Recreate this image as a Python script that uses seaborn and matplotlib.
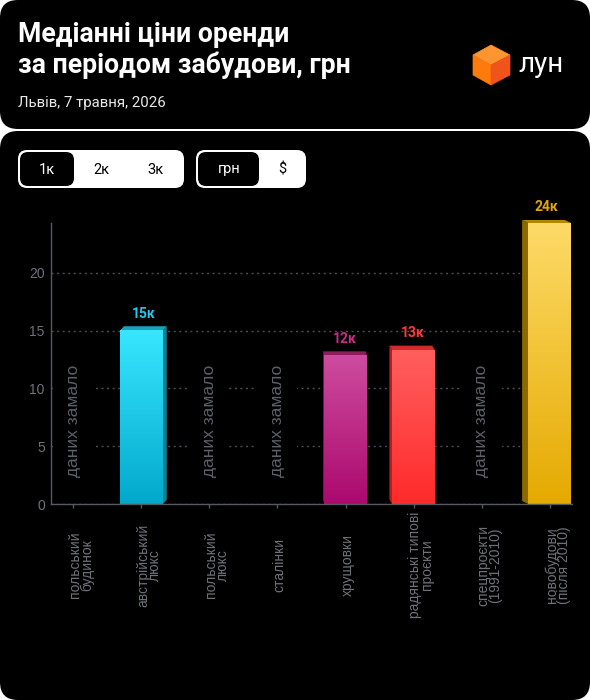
import numpy as np
import pandas as pd
import seaborn as sns
import matplotlib.pyplot as plt
from matplotlib.patches import FancyBboxPatch, Polygon
from matplotlib.colors import LinearSegmentedColormap

# data: median rent, thousand UAH (NaN = not enough data)
categories = ["польський\nбудинок", "австрійський\nлюкс", "польський\nлюкс", "сталінки",
              "хрущовки", "радянські типові\nпроєкти", "спецпроєкти\n(1991-2010)",
              "новобудови\n(після 2010)"]
prices = [np.nan, 15.0, np.nan, np.nan, 12.8, 13.3, np.nan, 24.3]
price_labels = ["", "15к", "", "", "12к", "13к", "", "24к"]
yticks = [0, 5, 10, 15, 20]
no_data_text = "даних замало"

# colours per category: gradient top, gradient bottom, top face, side face, label
bar_top = ["#888", "#38e6ff", "#888", "#888", "#cd4c9f", "#ff5e5e", "#888", "#fdda68"]
bar_bottom = ["#888", "#02a8cb", "#888", "#888", "#ab096d", "#ff2a2a", "#888", "#e5aa00"]
face_top = ["#888", "#1aa2bb", "#888", "#888", "#8e1d5d", "#cf2b2b", "#888", "#b38700"]
face_side = ["#888", "#147f92", "#888", "#888", "#7a1550", "#b42020", "#888", "#8c6900"]
label_col = ["#888", "#20c8ea", "#888", "#888", "#c92a86", "#ff3838", "#888", "#e5a800"]

sns.set_style("dark")
plt.rcParams['font.family'] = ['Roboto', 'DejaVu Sans']
axis_font = ['Liberation Sans', 'DejaVu Sans']
grey = "#6e7178"

fig = plt.figure(figsize=(5.9, 7), dpi=100, facecolor="white")

# background cards + header, in pixel coords
bg = fig.add_axes([0, 0, 1, 1], zorder=0)
bg.set_xlim(0, 590)
bg.set_ylim(700, 0)
bg.axis("off")
bg.add_patch(FancyBboxPatch((0, 0), 590, 129, boxstyle="round,pad=0,rounding_size=18",
                            fc="black", ec="none"))
bg.add_patch(FancyBboxPatch((0, 131), 590, 569, boxstyle="round,pad=0,rounding_size=18",
                            fc="black", ec="none"))
bg.text(18, 42, "Медіанні ціни оренди", color="white", fontsize=19.2, fontweight="bold",
        va="baseline")
bg.text(18, 73, "за періодом забудови, грн", color="white", fontsize=19.2, fontweight="bold",
        va="baseline")
bg.text(18, 107, "Львів, 7 травня, 2026", color="#e8e8e8", fontsize=10.8, va="baseline")

# logo
c, t, b = (491, 65), (491, 45), (491, 85)
ul, ur, ll, lr = (473, 55), (510, 55), (473, 75), (510, 75)
bg.add_patch(Polygon([t, ur, c, ul], fc="#ff9530", ec="#ff9530", lw=0.5))
bg.add_patch(Polygon([ul, c, b, ll], fc="#ff7a0c", ec="#ff7a0c", lw=0.5))
bg.add_patch(Polygon([c, ur, lr, b], fc="#f0541a", ec="#f0541a", lw=0.5))
bg.text(518, 72, "лун", color="white", fontsize=20, va="baseline")

# toggle buttons
bg.add_patch(FancyBboxPatch((18, 150), 166, 38, boxstyle="round,pad=0,rounding_size=9",
                            fc="white", ec="none"))
bg.add_patch(FancyBboxPatch((20, 152), 54, 34, boxstyle="round,pad=0,rounding_size=8",
                            fc="black", ec="none"))
bg.add_patch(FancyBboxPatch((196, 150), 110, 38, boxstyle="round,pad=0,rounding_size=9",
                            fc="white", ec="none"))
bg.add_patch(FancyBboxPatch((198, 152), 61, 34, boxstyle="round,pad=0,rounding_size=8",
                            fc="black", ec="none"))
for x, s, col in [(47, "1к", "white"), (101, "2к", "black"), (155, "3к", "black"),
                  (229, "грн", "white"), (282, "$", "black")]:
    bg.text(x, 169.5, s, color=col, fontsize=10.5, ha="center", va="center")

# chart
ax = fig.add_axes([51 / 590, 196 / 700, 521 / 590, 281 / 700], zorder=1)
ax.set_facecolor("none")
df = pd.DataFrame({"period": categories, "price": prices})
sns.barplot(data=df, x="period", y="price", hue="period", order=categories,
            palette=dict(zip(categories, bar_bottom)), legend=False, width=0.63,
            saturation=1, linewidth=0, edgecolor="none", ax=ax, zorder=2)

ymax = np.nanmax(prices)
for p in ax.patches:
    h = p.get_height()
    if not np.isfinite(h) or h <= 0:
        continue
    x0 = p.get_x()
    x1 = x0 + p.get_width()
    i = int(round((x0 + x1) / 2))
    cmap = LinearSegmentedColormap.from_list("g", [bar_bottom[i], bar_top[i]])
    ax.imshow(np.linspace(0, 1, 256).reshape(-1, 1), extent=[x0, x1, 0, h], origin="lower",
              aspect="auto", cmap=cmap, zorder=2.5)
    # fake 3d extrusion towards a vanishing point
    dx = 0.0243 * (3.36 - i)
    dy = 0.0122 * (45.6 - h)
    ax.add_patch(Polygon([(x0, h), (x0 + dx, h + dy), (x1 + dx, h + dy), (x1, h)],
                         fc=face_top[i], ec="none", zorder=2.4, clip_on=False))
    sx = x1 if dx > 0 else x0
    ax.add_patch(Polygon([(sx, 0), (sx, h), (sx + dx, h + dy), (sx + dx, dy)],
                         fc=face_side[i], ec="none", zorder=2.4, clip_on=False))
    ax.annotate(price_labels[i], ((x0 + x1) / 2 + dx / 2, h + dy), xytext=(0, 4),
                textcoords="offset points", ha="center", va="bottom", color=label_col[i],
                fontsize=10, fontweight="bold", annotation_clip=False)

for i, v in enumerate(prices):
    if np.isnan(v):
        ax.text(i, 7.2, no_data_text, rotation=90, ha="center", va="center", color="#5c6068",
                fontsize=12.5, family=axis_font, zorder=3,
                bbox=dict(fc="black", ec="none", pad=9))

ax.set_xlim(-0.33, 7.33)
ax.set_ylim(0, ymax)
ax.set_yticks(yticks)
ax.set_xlabel("")
ax.set_ylabel("")
ax.yaxis.grid(True, color="#4a4d55", linestyle=(0, (1.5, 2.5)), lw=1)
ax.xaxis.grid(False)
ax.set_axisbelow(True)
for s in ["top", "right"]:
    ax.spines[s].set_visible(False)
for s in ["left", "bottom"]:
    ax.spines[s].set_visible(True)
    ax.spines[s].set_color("#555a62")
    ax.spines[s].set_linewidth(1)
ax.tick_params(axis="y", length=0, pad=4.5, labelcolor=grey, labelsize=10)
ax.tick_params(axis="x", length=3, width=1, color="#555a62", bottom=True)
for lab in ax.get_yticklabels():
    lab.set_family(axis_font)

# category labels: first line sits on the tick, extra lines go right of it
ax.set_xticks(range(len(categories)))
ax.set_xticklabels([])
for i, name in enumerate(categories):
    n = name.count("\n")
    ax.annotate(name, (i, 0), xycoords=("data", "axes fraction"),
                xytext=(1.5 + 4.2 * n, -44), textcoords="offset points",
                rotation=90, ha="center", va="center", color=grey, fontsize=10,
                family=axis_font, linespacing=0.82, annotation_clip=False)

fig.savefig("out.png", dpi=100, facecolor="white")
